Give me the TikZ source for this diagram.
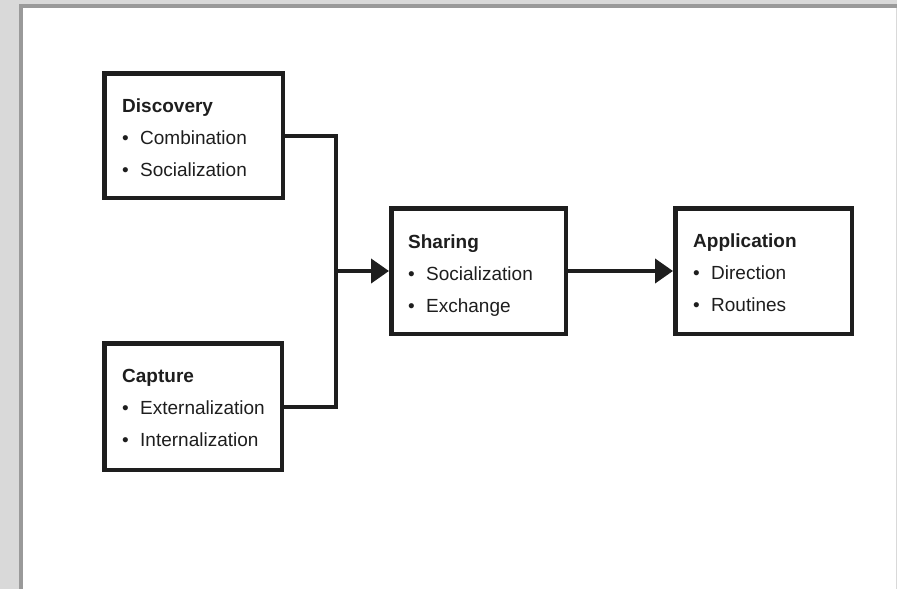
\documentclass[tikz,border=0pt]{standalone}
\usepackage{fontspec}
\setmainfont{Liberation Sans}
\usetikzlibrary{arrows.meta}
\definecolor{pagegray}{HTML}{D9D9D9}
\definecolor{framegray}{HTML}{9A9A9A}
\definecolor{ink}{HTML}{1E1E1E}
\newcommand{\bul}{\makebox[18pt][l]{•}}
\newcommand{\boxtext}[3]{\fontsize{19}{32}\selectfont
  \begin{tabular}[t]{@{}l@{}}\textbf{#1}\\ \bul #2\\ \bul #3\end{tabular}}
\tikzset{
  stage/.style={draw=ink, line width=4.5pt, rectangle, inner sep=0pt,
    outer sep=2.25pt, fill=white},
  stagetext/.style={anchor=base west, inner sep=0pt, text=ink},
  link/.style={draw=ink, line width=4pt, line join=miter},
  flow/.style={link, -{Triangle[length=18pt,width=24pt]}}
}
\begin{document}
\begin{tikzpicture}[x=1pt, y=-1pt]
  % page frame
  \useasboundingbox (0,0) rectangle (897,589);
  \fill[pagegray] (0,0) rectangle (897,589);
  \fill[framegray] (19,4) rectangle (897,8);
  \fill[framegray] (19,4) rectangle (23,589);
  \fill[white] (23,8) rectangle (896,589);

  % stages
  \node[stage, minimum width=178.5pt, minimum height=124.5pt] (disc) at (193.5,135.5) {};
  \node[stage, minimum width=177.5pt, minimum height=126.5pt] (capt) at (193,406.5) {};
  \node[stage, minimum width=174.5pt, minimum height=125.5pt] (shar) at (478.5,271) {};
  \node[stage, minimum width=176.5pt, minimum height=125.5pt] (appl) at (763.5,271) {};

  \node[stagetext] (disct) at (122,112) {\boxtext{Discovery}{Combination}{Socialization}};
  \node[stagetext] (captt) at (122,382) {\boxtext{Capture}{Externalization}{Internalization}};
  \node[stagetext] (shart) at (408,248) {\boxtext{Sharing}{Socialization}{Exchange}};
  \node[stagetext] (applt) at (693,247) {\boxtext{Application}{Direction}{Routines}};

  % connectors
  \coordinate (merge) at (336,271);
  \draw[link] (disc.east) -| (merge) |- (capt.east);
  \draw[flow] (merge) -- (shar.west);
  \draw[flow] (shar.east) -- (appl.west);
\end{tikzpicture}
\end{document}
